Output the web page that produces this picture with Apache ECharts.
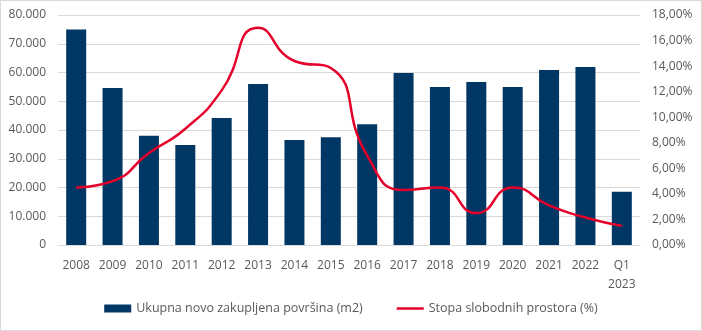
<!DOCTYPE html>
<html><head><meta charset="utf-8">
<script src="https://cdn.jsdelivr.net/npm/echarts@6/dist/echarts.min.js"></script>
<style>html,body{margin:0;padding:0;background:#fff}#c{width:700px;height:329px;border:1px solid #d9d9d9}</style>
</head><body><div id="c"></div>
<script>
const categories = ['2008','2009','2010','2011','2012','2013','2014','2015','2016','2017','2018','2019','2020','2021','2022','Q1\n2023'];
const leasedArea = [75000,54600,38000,34800,44200,56000,36500,37500,42000,59800,55000,56700,55000,60900,61900,18500];
const vacancyRate = [4.5,5.0,7.2,9.1,12.1,17.0,14.4,13.85,7.0,4.3,4.5,2.5,4.5,3.1,2.15,1.5];
const leftTicks = [0,80000,10000];
const rightTicks = [0,18,2];

const chart = echarts.init(document.getElementById('c'));
const txt = {color:'#595959', fontFamily:'Open Sans', fontSize:12};
chart.setOption({
  animation:false,
  grid:{left:57, right:61, top:14, bottom:85},
  legend:{
    bottom:10, left:'center', itemGap:34, itemWidth:27, itemHeight:8,
    textStyle:Object.assign({}, txt, {fontSize:12.5}),
    data:[{name:'Ukupna novo zakupljena površina (m2)', icon:'rect'},
          {name:'Stopa slobodnih prostora (%)', icon:'path://M0,0H0.01V0.01H0ZM0,2.7H27V5.3H0ZM26.99,7.99H27V8H26.99Z', itemStyle:{color:'#e4002b'}}]
  },
  xAxis:{type:'category', data:categories,
    axisLine:{lineStyle:{color:'#d9d9d9'}}, axisTick:{show:false},
    axisLabel:Object.assign({}, txt, {margin:11, lineHeight:19})},
  yAxis:[
    {type:'value', min:leftTicks[0], max:leftTicks[1], interval:leftTicks[2],
     axisLine:{show:false}, axisTick:{show:false},
     splitLine:{lineStyle:{color:'#d9d9d9'}},
     axisLabel:Object.assign({}, txt, {margin:12, formatter:v=>String(v).replace(/\B(?=(\d{3})+(?!\d))/g,'.')})},
    {type:'value', min:rightTicks[0], max:rightTicks[1], interval:rightTicks[2],
     axisLine:{show:false}, axisTick:{show:false}, splitLine:{show:false},
     axisLabel:Object.assign({}, txt, {margin:12, formatter:v=>v.toFixed(2).replace('.',',')+'%'})}
  ],
  series:[
    {name:'Ukupna novo zakupljena površina (m2)', type:'bar', data:leasedArea, barWidth:'55%',
     itemStyle:{color:'#003764'}},
    {name:'Stopa slobodnih prostora (%)', type:'line', yAxisIndex:1, data:vacancyRate, smooth:0.55,
     symbol:'none', lineStyle:{color:'#e4002b', width:2.5}, itemStyle:{color:'#e4002b'}}
  ]
});
</script></body></html>
